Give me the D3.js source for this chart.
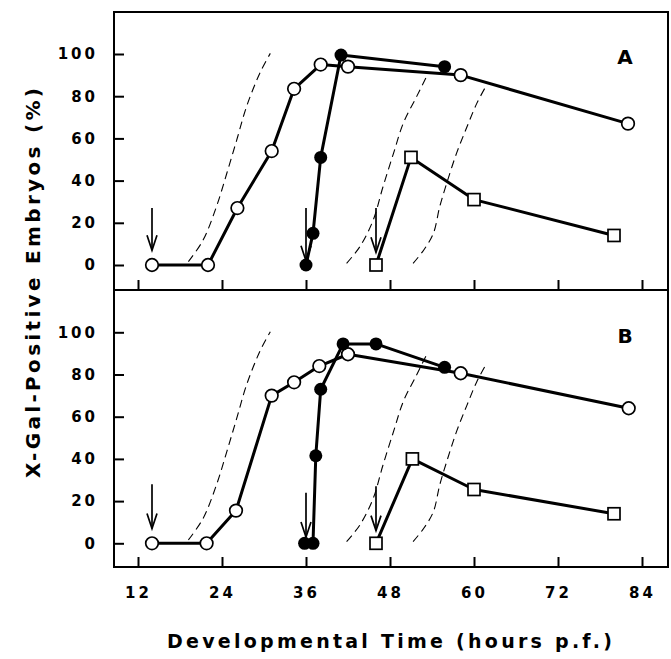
<!DOCTYPE html>
<html>
<head>
<meta charset="utf-8">
<script src="https://cdn.jsdelivr.net/npm/d3@7"></script>
<style>
  body { margin: 0; background: #fff; }
  text { font-family: 'DejaVu Sans', sans-serif; font-weight: bold; fill: #000; }
</style>
</head>
<body>
<svg id="chart" width="671" height="659"></svg>
<script>
'use strict'

var xTicks = [12, 24, 36, 48, 60, 72, 84]
var yTicks = [0, 20, 40, 60, 80, 100]

// panel A: [hours p.f., % positive]
var openA = [[14, 0], [22, 0], [26.2, 27], [31.1, 54], [34.3, 83.5], [38.1, 95], [42, 94], [58.1, 90], [82, 67]]
var filledA = [[36, 0], [37, 15], [38.1, 51], [41, 99.5], [55.8, 94]]
var squareA = [[46, 0], [51, 51], [60, 31], [80, 14]]
// arrows: [hours, from %, to %]
var arrowsA = [[14, 27, 7], [36, 27, 2], [46, 27, 6]]

// panel B
var openB = [[14, 0], [21.8, 0], [26, 15.5], [31.1, 70], [34.3, 76.3], [37.9, 84], [42, 89.6], [58.1, 80.6], [82.1, 64]]
var filledB = [[35.8, 0], [37, 0], [37.4, 41.5], [38.1, 73], [41.3, 94.5], [46, 94.5], [55.8, 83.4]]
var squareB = [[46, 0], [51.2, 40], [60, 25.5], [80, 14]]
var arrowsB = [[14, 28, 7], [36, 24, 3], [46, 27, 6]]

// dashed reference curves, same in both panels
var curve1 = [[19.2, 1.6], [21.3, 11.8], [23.2, 27.6], [24.7, 43.6], [26.1, 59.2], [27.5, 75], [29.4, 90.9], [30.9, 100.3]]
var curve2 = [[41.8, 0.8], [43.7, 8.7], [45.6, 21.3], [47, 37.1], [48.5, 52.9], [49.9, 67.2], [51.8, 79.8], [53.2, 89.2]]
var curve3 = [[51.3, 0.8], [52.8, 7], [54.2, 15], [55.1, 27.6], [56.1, 38.7], [57.5, 52.9], [59, 65.5], [60.4, 76.6], [61.8, 85.3]]

var svg = d3.select('#chart')
var left = 114
var right = 668
var x = d3.scaleLinear().domain([12, 84]).range([138, 642])

var panels = [
  { label: 'A', top: 12, bottom: 290, zero: 265, hundred: 54, labelY: 64,
    open: openA, filled: filledA, square: squareA, arrows: arrowsA },
  { label: 'B', top: 290, bottom: 567, zero: 543.3, hundred: 332.3, labelY: 343,
    open: openB, filled: filledB, square: squareB, arrows: arrowsB }
]

panels.forEach(function (p, i) {
  var y = d3.scaleLinear().domain([0, 100]).range([p.zero, p.hundred])
  var g = svg.append('g').attr('class', 'panel')

  var dashed = d3.line()
    .x((d) => x(d[0]))
    .y((d) => y(d[1]))
    .curve(d3.curveCatmullRom)

  g.selectAll('path.ref')
    .data([curve1, curve2, curve3])
    .enter().append('path')
      .attr('class', 'ref')
      .attr('d', dashed)
      .attr('fill', 'none')
      .attr('stroke', '#000')
      .attr('stroke-width', 1.1)
      .attr('stroke-dasharray', '8,5')

  // arrows marking the start of each series
  var arrow = g.selectAll('g.arrow')
    .data(p.arrows)
    .enter().append('g')
      .attr('class', 'arrow')
      .attr('stroke', '#000')
      .attr('stroke-width', 1.7)
      .attr('fill', 'none')

  arrow.append('line')
    .attr('x1', (d) => x(d[0]))
    .attr('x2', (d) => x(d[0]))
    .attr('y1', (d) => y(d[1]))
    .attr('y2', (d) => y(d[2]))

  arrow.append('path')
    .attr('d', (d) => {
      var ax = x(d[0])
      var ay = y(d[2])
      return 'M' + (ax - 5) + ',' + (ay - 15) + 'L' + ax + ',' + ay + 'L' + (ax + 5) + ',' + (ay - 15)
    })

  var line = d3.line()
    .x((d) => x(d[0]))
    .y((d) => y(d[1]))

  g.selectAll('path.series')
    .data([p.open, p.square, p.filled])
    .enter().append('path')
      .attr('class', 'series')
      .attr('d', line)
      .attr('fill', 'none')
      .attr('stroke', '#000')
      .attr('stroke-width', 3)
      .attr('stroke-linejoin', 'round')

  g.selectAll('circle.open')
    .data(p.open)
    .enter().append('circle')
      .attr('class', 'open')
      .attr('cx', (d) => x(d[0]))
      .attr('cy', (d) => y(d[1]))
      .attr('r', 6.3)
      .attr('fill', '#fff')
      .attr('stroke', '#000')
      .attr('stroke-width', 1.7)

  g.selectAll('rect.square')
    .data(p.square)
    .enter().append('rect')
      .attr('class', 'square')
      .attr('x', (d) => x(d[0]) - 6)
      .attr('y', (d) => y(d[1]) - 6)
      .attr('width', 12)
      .attr('height', 12)
      .attr('fill', '#fff')
      .attr('stroke', '#000')
      .attr('stroke-width', 1.7)

  g.selectAll('circle.filled')
    .data(p.filled)
    .enter().append('circle')
      .attr('class', 'filled')
      .attr('cx', (d) => x(d[0]))
      .attr('cy', (d) => y(d[1]))
      .attr('r', 6.5)
      .attr('fill', '#000')

  // axes, ticks pointing into the panel
  var yAxis = d3.axisLeft(y).tickValues(yTicks).tickSize(-10).tickPadding(16)
  var yg = g.append('g')
    .attr('transform', 'translate(' + left + ',0)')
    .call(yAxis)

  var xAxis = d3.axisBottom(x).tickValues(xTicks).tickSize(-10).tickPadding(20)
  if (i === 0) xAxis.tickFormat('')
  var xg = g.append('g')
    .attr('transform', 'translate(0,' + p.bottom + ')')
    .call(xAxis)

  ;[yg, xg].forEach((a) => {
    a.select('.domain').remove()
    a.attr('font-size', 15)
    a.selectAll('line').attr('stroke', '#000').attr('stroke-width', 2)
    a.selectAll('text').attr('letter-spacing', '3px')
  })

  g.append('text')
    .attr('x', 625)
    .attr('y', p.labelY)
    .attr('text-anchor', 'middle')
    .style('font-size', '20px')
    .text(p.label)
})

// frame and divider
svg.append('rect')
  .attr('x', left)
  .attr('y', 12)
  .attr('width', right - left)
  .attr('height', 567 - 12)
  .attr('fill', 'none')
  .attr('stroke', '#000')
  .attr('stroke-width', 2)

svg.append('line')
  .attr('x1', left)
  .attr('x2', right)
  .attr('y1', 290)
  .attr('y2', 290)
  .attr('stroke', '#000')
  .attr('stroke-width', 2)

svg.append('text')
  .attr('x', 167)
  .attr('y', 648)
  .attr('textLength', 445)
  .attr('lengthAdjust', 'spacing')
  .style('font-size', '19px')
  .text('Developmental Time (hours p.f.)')

svg.append('text')
  .attr('transform', 'translate(40,478) rotate(-90)')
  .attr('textLength', 390)
  .attr('lengthAdjust', 'spacing')
  .style('font-size', '20px')
  .text('X-Gal-Positive Embryos (%)')
</script>
</body>
</html>
